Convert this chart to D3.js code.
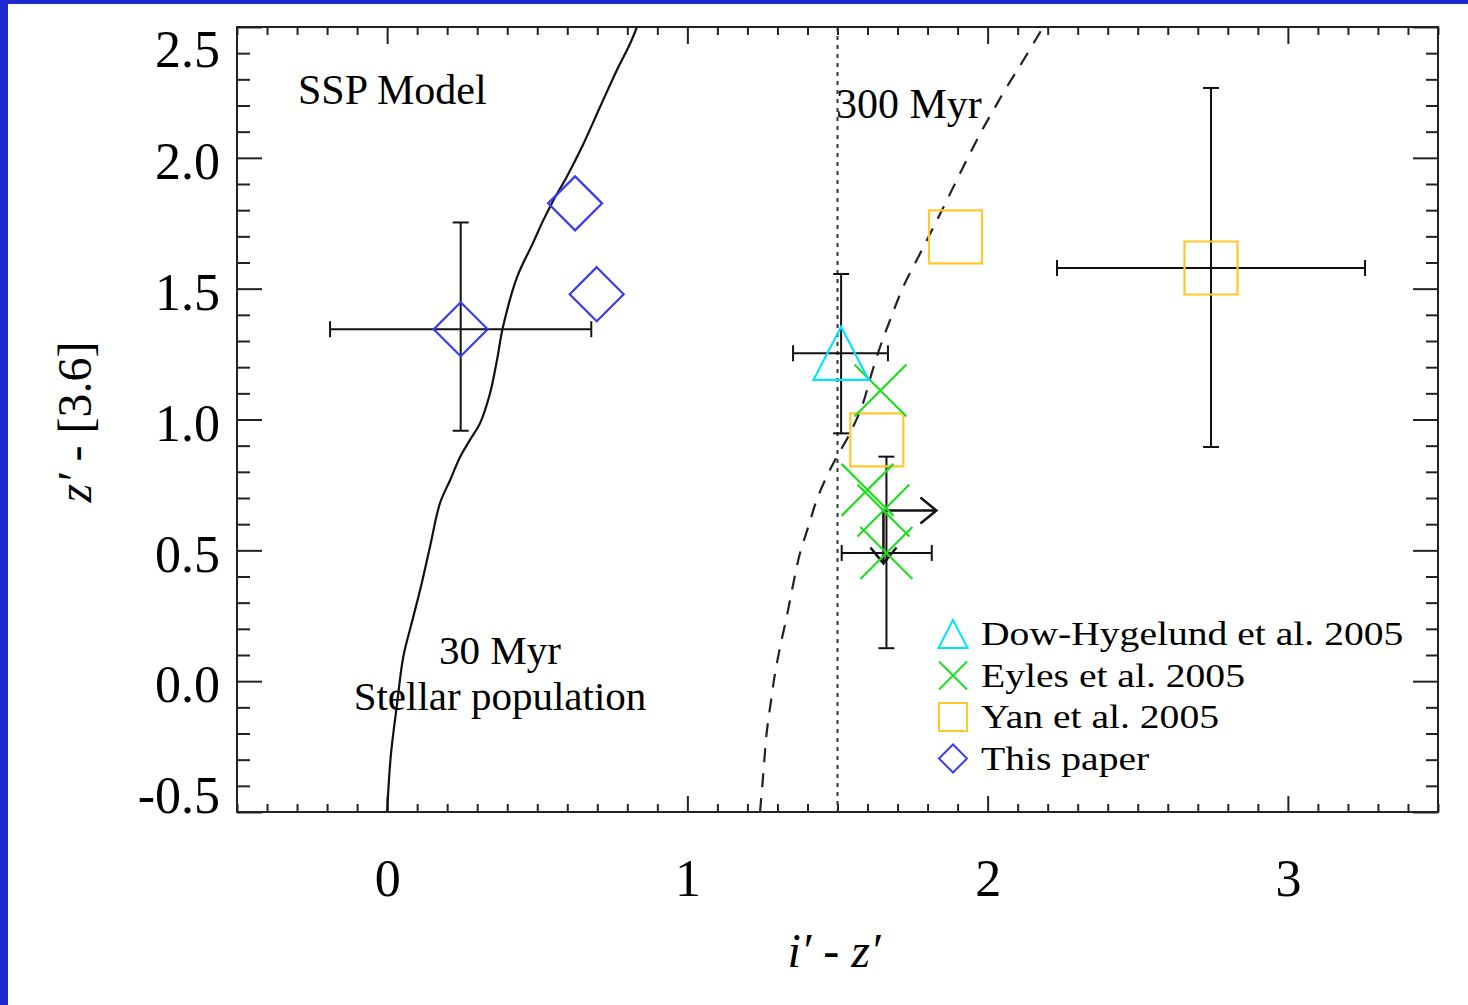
<!DOCTYPE html>
<html>
<head>
<meta charset="utf-8">
<script src="https://cdn.jsdelivr.net/npm/d3@7"></script>
<style>
  html, body { margin: 0; padding: 0; background: #fff; }
  svg { display: block; }
  text { font-family: "Liberation Serif", "Times New Roman", Times, serif; fill: #000; }
</style>
</head>
<body>
<svg id="chart" width="1468" height="1005"></svg>
<script>
// ---- Data -------------------------------------------------------------
// Simple stellar population tracks in (i' - z', z' - [3.6])
const track30Myr = [
  [0.000, -0.500], [0.012, -0.288], [0.032, -0.097], [0.054, 0.094],
  [0.082, 0.223], [0.110, 0.349], [0.143, 0.515], [0.176, 0.680],
  [0.210, 0.769], [0.243, 0.857], [0.276, 0.922], [0.310, 0.987],
  [0.343, 1.101], [0.366, 1.228], [0.386, 1.354], [0.433, 1.545],
  [0.486, 1.675], [0.520, 1.761], [0.554, 1.838], [0.598, 1.927],
  [0.654, 2.054], [0.709, 2.194], [0.765, 2.335], [0.809, 2.436],
  [0.832, 2.500]
];
const track300Myr = [
  [1.242, -0.500], [1.253, -0.352], [1.264, -0.199], [1.279, -0.072],
  [1.292, 0.030], [1.309, 0.132], [1.331, 0.247], [1.353, 0.374],
  [1.375, 0.489], [1.403, 0.591], [1.431, 0.693], [1.464, 0.782],
  [1.498, 0.858], [1.536, 0.935], [1.581, 1.049], [1.614, 1.177],
  [1.642, 1.278], [1.675, 1.380], [1.719, 1.507], [1.775, 1.634],
  [1.831, 1.761], [1.886, 1.889], [1.930, 1.991], [1.975, 2.092],
  [2.019, 2.182], [2.064, 2.271], [2.119, 2.373], [2.185, 2.500]
];
const ageCut = 1.5;   // vertical dotted reference line

// Observed galaxies (xlo/xhi, ylo/yhi give error bar ends)
const dowHygelund2005 = [
  { x: 1.512, y: 1.253, xlo: 1.352, xhi: 1.668, ylo: 0.947, yhi: 1.556 }
];
const eyles2005 = [
  { x: 1.643, y: 1.111 },
  { x: 1.600, y: 0.731 },
  { x: 1.653, y: 0.652, lowerX: true, upperY: true },
  { x: 1.663, y: 0.490, xlo: 1.514, xhi: 1.814, ylo: 0.126, yhi: 0.858 }
];
const yan2005 = [
  { x: 1.893, y: 1.698 },
  { x: 1.631, y: 0.922 },
  { x: 2.744, y: 1.579, xlo: 2.231, xhi: 3.257, ylo: 0.895, yhi: 2.267 }
];
const thisPaper = [
  { x: 0.245, y: 1.345, xlo: -0.190, xhi: 0.680, ylo: 0.957, yhi: 1.753 },
  { x: 0.626, y: 1.826 },
  { x: 0.698, y: 1.479 }
];

const xMajorTicks = [0, 1, 2, 3];
const yMajorTicks = [-0.5, 0.0, 0.5, 1.0, 1.5, 2.0, 2.5];
const yTickLabels = ["-0.5", "0.0", "0.5", "1.0", "1.5", "2.0", "2.5"];
const legendLabels = ["Dow-Hygelund et al. 2005", "Eyles et al. 2005", "Yan et al. 2005", "This paper"];
const legendShapes = ["triangle", "cross", "square", "diamond"];

// ---- Styling ----------------------------------------------------------
const colors = {
  triangle: "#00e4ff",
  cross: "#1fde1f",
  square: "#ffc82a",
  diamond: "#3a3af0",
  frame: "#222",
  border: "#1b29cf"
};

const svg = d3.select("#chart");
const W = 1468, H = 1005;
const box = { left: 237, right: 1438, top: 27, bottom: 812 };

svg.append("rect").attr("width", W).attr("height", H).attr("fill", "#fff");
svg.append("rect").attr("x", 0).attr("y", 0).attr("width", 8).attr("height", H).attr("fill", colors.border);
svg.append("rect").attr("x", 0).attr("y", 0).attr("width", W).attr("height", 4).attr("fill", colors.border);

const x = d3.scaleLinear().domain([-0.5, 3.5]).range([box.left, box.right]);
const y = d3.scaleLinear().domain([-0.5, 2.5]).range([box.bottom, box.top]);

const xMinor = d3.range(-5, 36).map(d => d / 10).filter(d => !xMajorTicks.includes(d));
const yMinor = d3.range(-5, 26).map(d => d / 10).filter(d => Math.abs(d * 2 - Math.round(d * 2)) > 1e-6);

function styleAxis(g) {
  g.select(".domain").remove();
  g.selectAll(".tick line").attr("stroke", colors.frame).attr("stroke-width", 2);
}

// bottom axis
svg.append("g").attr("transform", `translate(0,${box.bottom})`)
  .call(d3.axisBottom(x).tickValues(xMinor).tickSize(-8).tickFormat(""))
  .call(styleAxis);
svg.append("g").attr("transform", `translate(0,${box.bottom})`)
  .call(d3.axisBottom(x).tickValues(xMajorTicks).tickSize(-16).tickPadding(47).tickFormat(d3.format("d")))
  .call(styleAxis)
  .call(g => g.selectAll(".tick text").attr("font-size", 52).attr("font-family", "Liberation Serif, serif").attr("fill", "#000"));

// top axis
svg.append("g").attr("transform", `translate(0,${box.top})`)
  .call(d3.axisTop(x).tickValues(xMinor).tickSize(-8).tickFormat(""))
  .call(styleAxis);
svg.append("g").attr("transform", `translate(0,${box.top})`)
  .call(d3.axisTop(x).tickValues(xMajorTicks).tickSize(-17).tickFormat(""))
  .call(styleAxis);

// left axis
svg.append("g").attr("transform", `translate(${box.left},0)`)
  .call(d3.axisLeft(y).tickValues(yMinor).tickSize(-13).tickFormat(""))
  .call(styleAxis);
const yAxisG = svg.append("g").attr("transform", `translate(${box.left},0)`)
  .call(d3.axisLeft(y).tickValues(yMajorTicks).tickSize(-25).tickPadding(17)
        .tickFormat((d, i) => yTickLabels[i]))
  .call(styleAxis);
yAxisG.selectAll(".tick text")
  .attr("font-size", 52).attr("font-family", "Liberation Serif, serif").attr("fill", "#000")
  .attr("dy", d => d === 2.5 ? "0.75em" : (d === -0.5 ? "0em" : "0.4em"));

// right axis
svg.append("g").attr("transform", `translate(${box.right},0)`)
  .call(d3.axisRight(y).tickValues(yMinor).tickSize(-12).tickFormat(""))
  .call(styleAxis);
svg.append("g").attr("transform", `translate(${box.right},0)`)
  .call(d3.axisRight(y).tickValues(yMajorTicks).tickSize(-25).tickFormat(""))
  .call(styleAxis);

// frame
svg.append("rect")
  .attr("x", box.left).attr("y", box.top)
  .attr("width", box.right - box.left).attr("height", box.bottom - box.top)
  .attr("fill", "none").attr("stroke", colors.frame).attr("stroke-width", 2);

// axis titles
const xTitle = svg.append("text").attr("x", 834).attr("y", 967)
  .attr("text-anchor", "middle").attr("font-size", 48);
xTitle.append("tspan").attr("font-style", "italic").text("i′");
xTitle.append("tspan").text(" - ");
xTitle.append("tspan").attr("font-style", "italic").text("z′");

const yTitle = svg.append("text").attr("transform", "translate(91,422) rotate(-90)")
  .attr("text-anchor", "middle").attr("font-size", 48);
yTitle.append("tspan").attr("font-style", "italic").text("z′");
yTitle.append("tspan").text(" - [3.6]");

// ---- Plot contents ----------------------------------------------------
svg.append("clipPath").attr("id", "plotClip")
  .append("rect").attr("x", box.left).attr("y", box.top)
  .attr("width", box.right - box.left).attr("height", box.bottom - box.top);
const plot = svg.append("g").attr("clip-path", "url(#plotClip)");

const line = d3.line().x(d => x(d[0])).y(d => y(d[1])).curve(d3.curveCatmullRom);

plot.append("path").datum(track30Myr).attr("d", line)
  .attr("fill", "none").attr("stroke", "#111").attr("stroke-width", 2.2);
plot.append("path").datum(track300Myr).attr("d", line)
  .attr("fill", "none").attr("stroke", "#222").attr("stroke-width", 2.2)
  .attr("stroke-dasharray", "14,11");
plot.append("line")
  .attr("x1", x(ageCut)).attr("x2", x(ageCut))
  .attr("y1", box.top).attr("y2", box.bottom)
  .attr("stroke", "#333").attr("stroke-width", 2).attr("stroke-dasharray", "4,5");

// annotations
svg.append("text").attr("x", 298).attr("y", 104).attr("font-size", 42).text("SSP Model");
svg.append("text").attr("x", 836).attr("y", 118).attr("font-size", 42).text("300 Myr");
svg.append("text").attr("x", 500).attr("y", 664).attr("text-anchor", "middle").attr("font-size", 41).text("30 Myr");
svg.append("text").attr("x", 500).attr("y", 710).attr("text-anchor", "middle").attr("font-size", 41).text("Stellar population");

// symbol path generators (centered at 0,0; r = half size in px)
function shapePath(shape, r) {
  switch (shape) {
    case "triangle": return `M0,${-r}L${r * 1.04},${r}L${-r * 1.04},${r}Z`;
    case "cross": return `M${-r},${-r}L${r},${r}M${r},${-r}L${-r},${r}`;
    case "square": return `M${-r},${-r}H${r}V${r}H${-r}Z`;
    case "diamond": return `M0,${-r}L${r},0L0,${r}L${-r},0Z`;
  }
}

const errG = plot.append("g").attr("stroke", "#111").attr("stroke-width", 2).attr("fill", "none");
function errorBars(data) {
  data.filter(d => d.xlo !== undefined).forEach(d => {
    const cy = y(d.y), x0 = x(d.xlo), x1 = x(d.xhi);
    errG.append("line").attr("x1", x0).attr("x2", x1).attr("y1", cy).attr("y2", cy);
    errG.append("line").attr("x1", x0).attr("x2", x0).attr("y1", cy - 8).attr("y2", cy + 8);
    errG.append("line").attr("x1", x1).attr("x2", x1).attr("y1", cy - 8).attr("y2", cy + 8);
    const cx = x(d.x), y0 = y(d.ylo), y1 = y(d.yhi);
    errG.append("line").attr("x1", cx).attr("x2", cx).attr("y1", y0).attr("y2", y1);
    errG.append("line").attr("x1", cx - 8).attr("x2", cx + 8).attr("y1", y0).attr("y2", y0);
    errG.append("line").attr("x1", cx - 8).attr("x2", cx + 8).attr("y1", y1).attr("y2", y1);
  });
}
function limitArrows(data) {
  const len = 53, head = 16, half = 13;
  data.forEach(d => {
    const cx = x(d.x), cy = y(d.y);
    if (d.lowerX) {
      errG.append("path").attr("stroke-width", 2.5)
        .attr("d", `M${cx},${cy}H${cx + len}M${cx + len - head},${cy - half}L${cx + len},${cy}L${cx + len - head},${cy + half}`);
    }
    if (d.upperY) {
      errG.append("path").attr("stroke-width", 2.5)
        .attr("d", `M${cx},${cy}V${cy + len}M${cx - half},${cy + len - head}L${cx},${cy + len}L${cx + half},${cy + len - head}`);
    }
  });
}
[dowHygelund2005, eyles2005, yan2005, thisPaper].forEach(errorBars);
limitArrows(eyles2005);

function drawSymbols(data, shape, r) {
  plot.append("g").selectAll("path").data(data).join("path")
    .attr("transform", d => `translate(${x(d.x)},${y(d.y)})`)
    .attr("d", shapePath(shape, r))
    .attr("fill", "none").attr("stroke", colors[shape]).attr("stroke-width", 2.2);
}
drawSymbols(thisPaper, "diamond", 27);
drawSymbols(yan2005, "square", 26.5);
drawSymbols(eyles2005, "cross", 26);
drawSymbols(dowHygelund2005, "triangle", 26.5);

// legend
const legend = svg.append("g");
legendLabels.forEach((label, i) => {
  const cy = 634 + i * 41.5;
  const shape = legendShapes[i];
  legend.append("path")
    .attr("transform", `translate(953,${cy})`)
    .attr("d", shapePath(shape, 14))
    .attr("fill", "none").attr("stroke", colors[shape]).attr("stroke-width", 2);
  legend.append("text")
    .attr("transform", `translate(981,${cy + 11}) scale(1.165,1)`)
    .attr("font-size", 34).text(label);
});
</script>
</body>
</html>
